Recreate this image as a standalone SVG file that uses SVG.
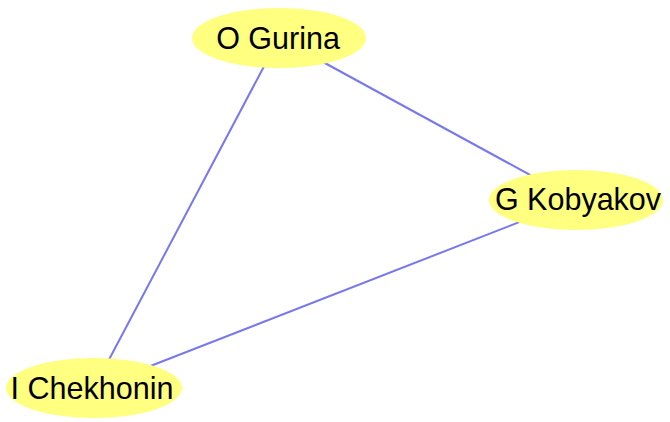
<svg xmlns="http://www.w3.org/2000/svg" width="670" height="422" viewBox="0 0 670 422">
<style>
.edge{stroke:#7777ee;stroke-width:2;fill:none}
.node ellipse{fill:#ffff80;stroke:none}
.node text{font-family:"Liberation Sans",Arial,sans-serif;font-size:30.5px;fill:#000;text-anchor:middle}
</style>
<rect width="670" height="422" fill="#fff"/>
<g id="edges">
<line class="edge" x1="279" y1="38" x2="94" y2="388"/>
<line class="edge" x1="279" y1="38" x2="576" y2="200"/>
<line class="edge" x1="576" y1="200" x2="94" y2="388"/>
</g>
<g id="node-o-gurina" class="node">
<ellipse cx="279" cy="38" rx="87" ry="30"/>
<text x="278" y="49">O Gurina</text>
</g>
<g id="node-g-kobyakov" class="node">
<ellipse cx="576" cy="200" rx="87" ry="30"/>
<text x="578" y="210">G Kobyakov</text>
</g>
<g id="node-i-chekhonin" class="node">
<ellipse cx="94" cy="388" rx="88" ry="30"/>
<text x="92" y="399">I Chekhonin</text>
</g>
</svg>
